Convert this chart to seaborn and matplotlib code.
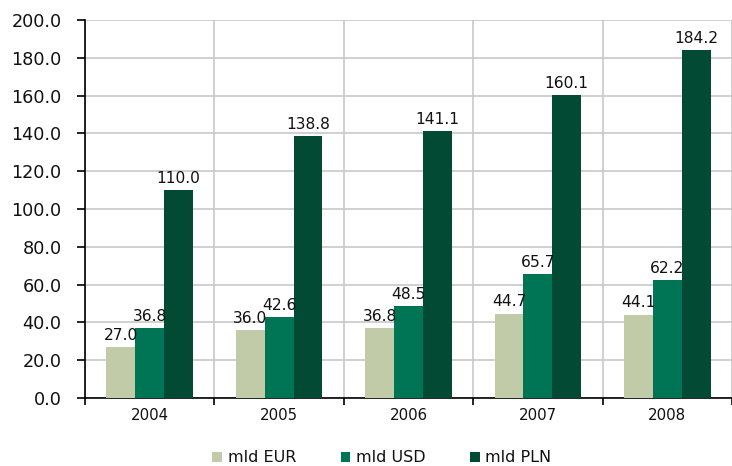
import pandas as pd
import matplotlib.pyplot as plt
import seaborn as sns
from matplotlib.ticker import FormatStrFormatter

# Data
years = ["2004", "2005", "2006", "2007", "2008"]
mld_eur = [27.0, 36.0, 36.8, 44.7, 44.1]
mld_usd = [36.8, 42.6, 48.5, 65.7, 62.2]
mld_pln = [110.0, 138.8, 141.1, 160.1, 184.2]
series = ["mld EUR", "mld USD", "mld PLN"]
colors = ["#C2CBA8", "#007556", "#034A35"]

df = pd.DataFrame({
    "year": years * 3,
    "series": [series[0]] * 5 + [series[1]] * 5 + [series[2]] * 5,
    "value": mld_eur + mld_usd + mld_pln,
})

sns.set_style("white")
plt.rcParams["font.family"] = ["DejaVu Sans"]

fig = plt.figure(figsize=(7.32, 4.66), dpi=100)
ax = fig.add_axes([85 / 732, 68 / 466, 647 / 732, 378 / 466])

sns.barplot(data=df, x="year", y="value", hue="series", palette=colors,
            width=0.67, gap=0, saturation=1, errorbar=None, linewidth=0,
            ax=ax, zorder=3)

# === Value labels ===
for cont in ax.containers:
    ax.bar_label(cont, fmt="%.1f", fontsize=11.2, padding=3, color="#111111")

# === Axes ===
ax.set_ylim(0, 200)
ax.set_yticks(range(0, 201, 20))
ax.yaxis.set_major_formatter(FormatStrFormatter("%.1f"))
ax.set_xlim(-0.5, -0.5 + 647 / 131)
ax.set_xticks([i - 0.5 for i in range(6)])
ax.set_xticklabels([])
ax.set_xticks(range(5), minor=True)
ax.set_xticklabels(years, minor=True)
ax.tick_params(axis="x", which="minor", bottom=False, length=0, pad=7,
               labelsize=10.8, labelcolor="#111111")
ax.tick_params(axis="x", which="major", bottom=True, direction="out", length=5,
               width=1.2, color="black")
ax.tick_params(axis="y", left=True, direction="out", length=6, width=1.2, color="black",
               pad=11, labelsize=12.7, labelcolor="#111111")
ax.set_xlabel("")
ax.set_ylabel("")

ax.grid(True, which="major", color="#C8C8C8", linewidth=1.2, zorder=0)
ax.set_axisbelow(True)
for s in ["top", "right"]:
    ax.spines[s].set_visible(False)
for s in ["left", "bottom"]:
    ax.spines[s].set_color("black")
    ax.spines[s].set_linewidth(1.2)

# === Legend ===
handles, labels = ax.get_legend_handles_labels()
ax.legend(handles, labels, loc="center", bbox_to_anchor=(382 / 732, 8 / 466),
          bbox_transform=fig.transFigure, ncol=3, frameon=False, fontsize=11.5,
          handlelength=0.6, handleheight=0.6, handletextpad=0.35, columnspacing=2.8,
          labelcolor="#111111")

fig.savefig("out.png", dpi=100)
